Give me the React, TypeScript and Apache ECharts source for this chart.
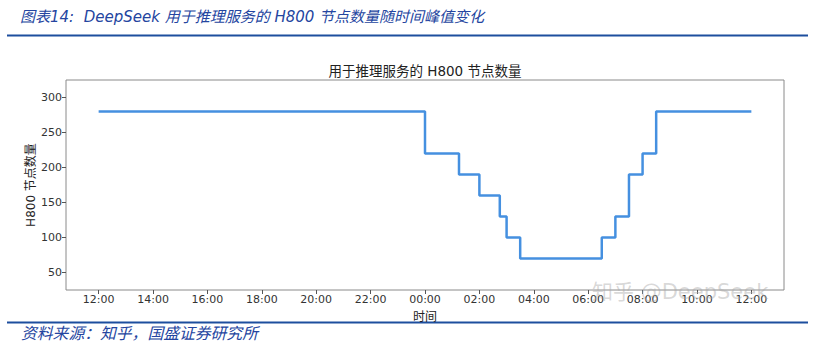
import React, { useEffect, useRef } from "react";
import * as echarts from "echarts";

// hours after 12:00 on day 1 at which the node count changes
const changeHours = [0, 12, 13.25, 14, 14.75, 15, 15.5, 18.5, 19, 19.5, 20, 20.5, 24];
const nodeCounts = [280, 220, 190, 160, 130, 100, 70, 100, 130, 190, 220, 280, 280];
const xTickHours = [0, 2, 4, 6, 8, 10, 12, 14, 16, 18, 20, 22, 24];
const yTickValues = [50, 100, 150, 200, 250, 300];

const headerText = "图表14:  DeepSeek 用于推理服务的 H800 节点数量随时间峰值变化";
const chartTitle = "用于推理服务的 H800 节点数量";
const xAxisName = "时间";
const yAxisName = "H800 节点数量";
const sourceText = "资料来源：知乎，国盛证券研究所";
const watermark = "知乎 @DeepSeek";

const fmtHour = (v: number) => {
  const h = ((Math.round(v) + 12) % 24 + 24) % 24;
  return (h < 10 ? "0" + h : "" + h) + ":00";
};

export default function App() {
  const ref = useRef<HTMLDivElement>(null);
  useEffect(() => {
    if (!ref.current) return;
    const chart = echarts.init(ref.current, null, { renderer: "svg" });
    const blue = "#1d4e9e";
    const textBlue = "#2445a0";
    const font = "'DejaVu Sans', 'Noto Sans CJK SC', sans-serif";
    chart.setOption({
      animation: false,
      backgroundColor: "#ffffff",
      grid: {
        left: 66,
        top: 80,
        right: 31,
        bottom: 66,
        show: true,
        borderColor: "#8a8a8a",
        borderWidth: 1,
        backgroundColor: "transparent",
        containLabel: false,
      },
      xAxis: {
        type: "value",
        min: -1.2,
        max: 25.2,
        name: xAxisName,
        nameLocation: "middle",
        nameGap: 21,
        nameMoveOverlap: false,
        nameTextStyle: { fontFamily: font, fontSize: 12, color: "#222" },
        axisLine: { show: false, onZero: false },
        splitLine: { show: false },
        axisTick: {
          show: true,
          length: 4,
          lineStyle: { color: "#555" },
          customValues: xTickHours,
        },
        axisLabel: {
          customValues: xTickHours,
          formatter: (v: number) => fmtHour(v),
          fontFamily: font,
          fontSize: 11,
          color: "#333",
          margin: 4,
        },
      },
      yAxis: {
        type: "value",
        min: 25,
        max: 325,
        name: yAxisName,
        nameLocation: "middle",
        nameRotate: 90,
        nameGap: 29,
        nameMoveOverlap: false,
        nameTextStyle: { fontFamily: font, fontSize: 12, color: "#222" },
        axisLine: { show: false, onZero: false },
        splitLine: { show: false },
        axisTick: {
          show: true,
          length: 4,
          lineStyle: { color: "#555" },
          customValues: yTickValues,
        },
        axisLabel: {
          customValues: yTickValues,
          fontFamily: font,
          fontSize: 11,
          color: "#333",
          margin: 4,
        },
      },
      series: [
        {
          type: "line",
          step: "end",
          showSymbol: false,
          symbol: "none",
          lineStyle: { color: "#4590e0", width: 2.5 },
          data: changeHours.map((h, i) => [h, nodeCounts[i]]),
        },
      ],
      graphic: [
        {
          type: "text",
          x: 20,
          y: 17,
          style: {
            text: headerText,
            fontFamily: font,
            fontStyle: "italic",
            fontSize: 15,
            fill: textBlue,
            verticalAlign: "middle",
          },
        },
        {
          type: "line",
          shape: { x1: 7, y1: 35.5, x2: 808, y2: 35.5 },
          style: { stroke: blue, lineWidth: 2 },
        },
        {
          type: "text",
          x: 425,
          y: 71,
          style: {
            text: chartTitle,
            fontFamily: font,
            fontSize: 13.5,
            fill: "#222",
            align: "center",
            verticalAlign: "middle",
          },
        },
        {
          type: "text",
          x: 592,
          y: 292,
          z: 10,
          style: {
            text: watermark,
            fontFamily: font,
            fontSize: 21,
            fill: "rgba(170,170,170,0.45)",
            verticalAlign: "middle",
          },
        },
        {
          type: "line",
          shape: { x1: 7, y1: 322.5, x2: 808, y2: 322.5 },
          style: { stroke: blue, lineWidth: 2 },
        },
        {
          type: "text",
          x: 21,
          y: 333,
          style: {
            text: sourceText,
            fontFamily: font,
            fontStyle: "italic",
            fontSize: 15.8,
            fill: textBlue,
            verticalAlign: "middle",
          },
        },
      ],
    });
    return () => chart.dispose();
  }, []);
  return (
    <div
      ref={ref}
      style={{ position: "fixed", left: 0, top: 0, width: 815, height: 356, background: "#fff" }}
    />
  );
}
